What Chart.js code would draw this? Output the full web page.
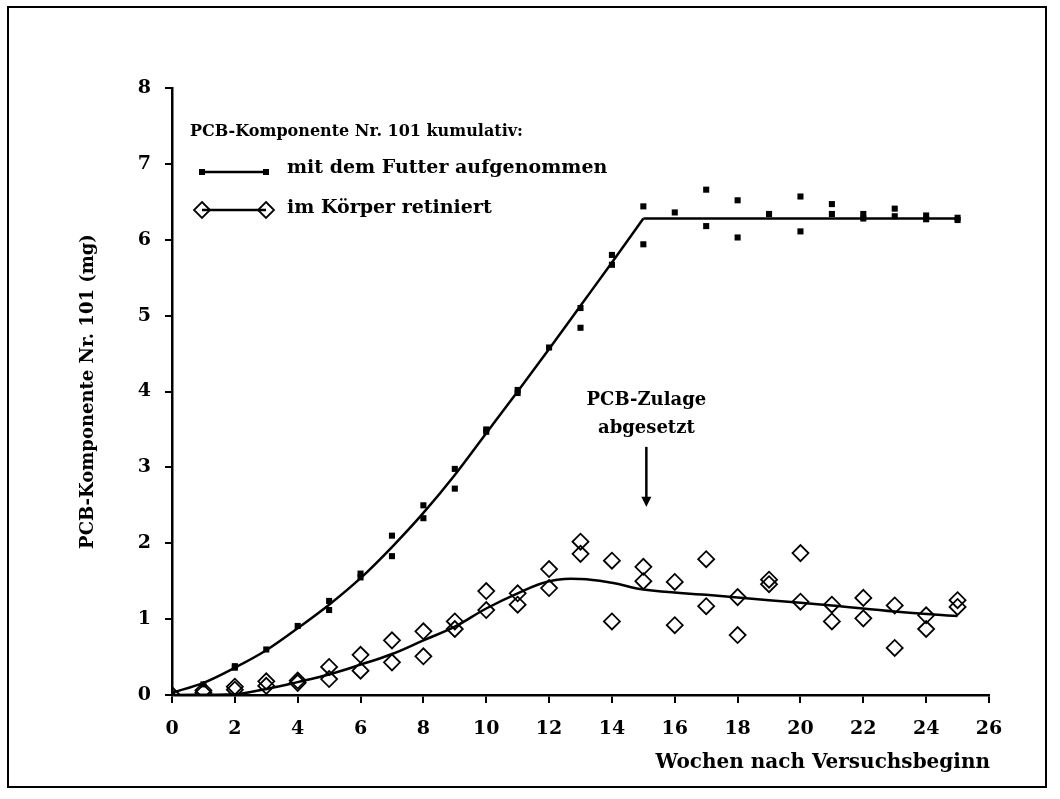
<!DOCTYPE html>
<html>
<head>
<meta charset="utf-8">
<script src="https://cdn.jsdelivr.net/npm/chart.js@4.4.0/dist/chart.umd.min.js"></script>
<style>
html, body { margin: 0; padding: 0; background: #fff; }
#wrap { width: 1060px; height: 799px; }
</style>
</head>
<body>
<div id="wrap"><canvas id="pcbChart"></canvas></div>
<script>
// Messpunkte: mit dem Futter aufgenommen (Woche, mg)
const futterWochen = [0, 1, 2, 2, 3, 4, 5, 5, 6, 6, 7, 7, 8, 8, 9, 9, 10, 10, 11, 11, 12, 13, 13,
    14, 14, 15, 15, 16, 17, 17, 18, 18, 19, 20, 20, 21, 21, 22, 22, 23, 23, 24, 24, 25, 25];
const futterWerte = [0.02, 0.14, 0.36, 0.38, 0.60, 0.91, 1.24, 1.12, 1.60, 1.55, 2.10, 1.83, 2.50, 2.33, 2.98, 2.72,
    3.50, 3.47, 4.02, 3.98, 4.58, 5.10, 4.84, 5.80, 5.67, 6.44, 5.94, 6.36, 6.66, 6.18, 6.52, 6.03, 6.34,
    6.57, 6.11, 6.47, 6.34, 6.34, 6.28, 6.41, 6.31, 6.32, 6.27, 6.29, 6.26];

// Messpunkte: im Körper retiniert (Woche, mg)
const koerperWochen = [0, 1, 1, 2, 2, 3, 3, 4, 4, 5, 5, 6, 6, 7, 7, 8, 8, 9, 9, 10, 10, 11, 11, 12, 12,
    13, 13, 14, 14, 15, 15, 16, 16, 17, 17, 18, 18, 19, 19, 20, 20, 21, 21, 22, 22, 23, 23, 24, 24, 25, 25];
const koerperWerte = [0.0, 0.06, 0.03, 0.11, 0.07, 0.18, 0.12, 0.19, 0.16, 0.37, 0.21, 0.53, 0.32, 0.72, 0.43,
    0.84, 0.51, 0.97, 0.87, 1.37, 1.12, 1.34, 1.19, 1.66, 1.41, 2.02, 1.86, 1.77, 0.97, 1.69, 1.50,
    1.49, 0.92, 1.79, 1.17, 1.29, 0.79, 1.52, 1.46, 1.87, 1.23, 1.19, 0.97, 1.28, 1.01, 1.18, 0.62,
    1.05, 0.87, 1.25, 1.16];

// Ausgleichskurven
const futterKurveX = [0, 1, 2, 3, 4, 5, 6, 7, 8, 9, 10, 11, 12, 13, 14, 15];
const futterKurveY = [0.03, 0.16, 0.36, 0.59, 0.88, 1.19, 1.54, 1.95, 2.40, 2.90, 3.45, 4.00, 4.56, 5.13, 5.70, 6.28];
const plateauX = [15, 25];
const plateauY = [6.28, 6.28];
const koerperKurveX = [0, 2, 3, 4, 5, 6, 7, 8, 9, 10, 11, 12, 13, 14, 15, 17, 19, 21, 23, 25];
const koerperKurveY = [0, 0.01, 0.08, 0.17, 0.27, 0.40, 0.54, 0.72, 0.90, 1.14, 1.34, 1.50, 1.53, 1.48, 1.39,
    1.32, 1.25, 1.18, 1.10, 1.04];

// Achsen
const xTicks = [0, 2, 4, 6, 8, 10, 12, 14, 16, 18, 20, 22, 24, 26];
const yTicks = [0, 1, 2, 3, 4, 5, 6, 7, 8];

const legendTitle = 'PCB-Komponente Nr. 101 kumulativ:';
const legendLabels = ['mit dem Futter aufgenommen', 'im Körper retiniert'];
const noteLines = ['PCB-Zulage', 'abgesetzt'];
const noteWeek = 15;
const xTitle = 'Wochen nach Versuchsbeginn';

const FONT = '"DejaVu Serif", serif';

function toPoints(xs, ys) {
    return xs.map((x, i) => ({ x: x, y: ys[i] }));
}

// Rahmen, Legende, x-Titel und Hinweis auf das Absetzen
const extras = {
    id: 'extras',
    afterDraw(chart) {
        const ctx = chart.ctx;
        const xs = chart.scales.x;
        const ys = chart.scales.y;
        ctx.save();
        ctx.strokeStyle = '#000';
        ctx.lineWidth = 2;
        ctx.strokeRect(8, 7, 1038, 780);

        ctx.fillStyle = '#000';
        ctx.textBaseline = 'middle';

        // x-Titel
        ctx.font = 'bold 20px ' + FONT;
        ctx.textAlign = 'right';
        ctx.fillText(xTitle, 990, 763);

        // Legende
        ctx.textAlign = 'left';
        ctx.font = 'bold 16px ' + FONT;
        ctx.fillText(legendTitle, 190, 132);

        ctx.font = 'bold 19px ' + FONT;
        ctx.lineWidth = 2.5;
        ctx.beginPath();
        ctx.moveTo(202, 172);
        ctx.lineTo(266, 172);
        ctx.stroke();
        ctx.fillRect(199, 169, 6, 6);
        ctx.fillRect(263, 169, 6, 6);
        ctx.fillText(legendLabels[0], 287, 168);

        ctx.beginPath();
        ctx.moveTo(202, 210);
        ctx.lineTo(266, 210);
        ctx.stroke();
        ctx.lineWidth = 1.8;
        [202, 266].forEach(cx => {
            ctx.beginPath();
            ctx.moveTo(cx, 202);
            ctx.lineTo(cx + 8, 210);
            ctx.lineTo(cx, 218);
            ctx.lineTo(cx - 8, 210);
            ctx.closePath();
            ctx.stroke();
        });
        ctx.fillText(legendLabels[1], 287, 208);

        // Hinweis
        const px = xs.getPixelForValue(noteWeek);
        ctx.font = 'bold 18px ' + FONT;
        ctx.textAlign = 'center';
        ctx.fillText(noteLines[0], px + 3, ys.getPixelForValue(3.88));
        ctx.fillText(noteLines[1], px + 3, ys.getPixelForValue(3.51));
        const y0 = ys.getPixelForValue(3.27);
        const y1 = ys.getPixelForValue(2.48);
        ctx.lineWidth = 2.5;
        ctx.beginPath();
        ctx.moveTo(px + 3, y0);
        ctx.lineTo(px + 3, y1 - 8);
        ctx.stroke();
        ctx.beginPath();
        ctx.moveTo(px - 2, y1 - 10);
        ctx.lineTo(px + 8, y1 - 10);
        ctx.lineTo(px + 3, y1);
        ctx.closePath();
        ctx.fill();
        ctx.restore();
    }
};

const ctx = document.getElementById('pcbChart').getContext('2d');

const pcbChart = new Chart(ctx, {
    type: 'scatter',
    data: {
        datasets: [{
            label: 'Kurve Futter',
            data: toPoints(futterKurveX, futterKurveY),
            showLine: true,
            borderColor: '#000',
            borderWidth: 2.5,
            pointRadius: 0,
            cubicInterpolationMode: 'monotone'
        }, {
            label: 'Plateau Futter',
            data: toPoints(plateauX, plateauY),
            showLine: true,
            borderColor: '#000',
            borderWidth: 2.5,
            pointRadius: 0
        }, {
            label: 'Kurve Körper',
            data: toPoints(koerperKurveX, koerperKurveY),
            showLine: true,
            borderColor: '#000',
            borderWidth: 2.5,
            pointRadius: 0,
            tension: 0.4
        }, {
            label: legendLabels[0],
            data: toPoints(futterWochen, futterWerte),
            pointStyle: 'rect',
            pointRadius: 4.3,
            backgroundColor: '#000',
            borderColor: '#000',
            borderWidth: 0
        }, {
            label: legendLabels[1],
            data: toPoints(koerperWochen, koerperWerte),
            pointStyle: 'rectRot',
            pointRadius: 8,
            backgroundColor: 'rgba(0,0,0,0)',
            borderColor: '#000',
            borderWidth: 1.8
        }]
    },
    options: {
        responsive: true,
        maintainAspectRatio: false,
        animation: false,
        layout: {
            padding: { left: 74, right: 71, top: 88, bottom: 19 }
        },
        plugins: {
            legend: { display: false },
            tooltip: { enabled: false }
        },
        scales: {
            x: {
                type: 'linear',
                min: 0,
                max: 26,
                afterBuildTicks: scale => { scale.ticks = xTicks.map(v => ({ value: v })); },
                afterFit: scale => { scale.height = 85; },
                ticks: {
                    color: '#000',
                    font: { family: FONT, size: 19, weight: 'bold' },
                    padding: 15,
                    maxRotation: 0
                },
                grid: { drawOnChartArea: false, color: '#000', lineWidth: 2, tickLength: 8 },
                border: { color: '#000', width: 2.5 }
            },
            y: {
                min: 0,
                max: 8,
                afterBuildTicks: scale => { scale.ticks = yTicks.map(v => ({ value: v })); },
                afterFit: scale => { scale.width = 98; },
                ticks: {
                    color: '#000',
                    font: { family: FONT, size: 19, weight: 'bold' },
                    padding: 14
                },
                grid: { drawOnChartArea: false, color: '#000', lineWidth: 2, tickLength: 7 },
                border: { color: '#000', width: 2.5 },
                title: {
                    display: true,
                    text: 'PCB-Komponente Nr. 101 (mg)',
                    color: '#000',
                    font: { family: FONT, size: 18, weight: 'bold' }
                }
            }
        }
    },
    plugins: [extras]
});
</script>
</body>
</html>
